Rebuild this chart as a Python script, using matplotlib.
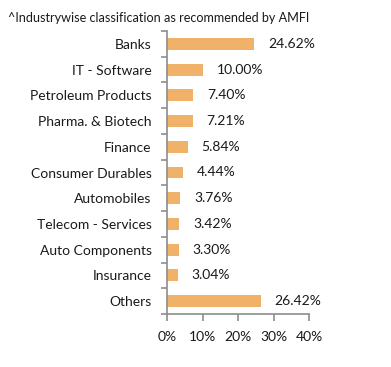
import matplotlib
matplotlib.use("Agg")
import matplotlib.pyplot as plt
from matplotlib.ticker import FixedLocator, FuncFormatter

categories = ["Banks", "IT - Software", "Petroleum Products", "Pharma. & Biotech",
              "Finance", "Consumer Durables", "Automobiles", "Telecom - Services",
              "Auto Components", "Insurance", "Others"]
values = [24.62, 10.00, 7.40, 7.21, 5.84, 4.44, 3.76, 3.42, 3.30, 3.04, 26.42]
xticks = [0, 10, 20, 30, 40]
title = "^Industrywise classification as recommended by AMFI"

plt.rcParams['font.family'] = ['Lato', 'DejaVu Sans']
fig = plt.figure(figsize=(3.91, 3.67), dpi=100)
ax = fig.add_axes([167/391, 1-314/367, (309-167)/391, (314-31)/367])

n = len(categories)
ypos = list(range(n))
ax.barh(ypos, values, height=0.46, color="#F0B169")
ax.set_ylim(n-0.5, -0.5)
ax.set_xlim(0, 40)
grey = "#8c8c8c"
txt = "#1a1a1a"
for s in ["top", "right"]:
    ax.spines[s].set_visible(False)
for s in ["left", "bottom"]:
    ax.spines[s].set_color(grey)
    ax.spines[s].set_linewidth(1.2)

ax.xaxis.set_major_locator(FixedLocator(xticks))
ax.xaxis.set_major_formatter(FuncFormatter(lambda v, p: f"{v:.0f}%"))
ax.tick_params(axis='x', length=5, width=1.2, color=grey, labelsize=10, pad=7, labelcolor=txt)

ax.set_yticks(ypos)
ax.set_yticklabels(categories, fontsize=10, color=txt)
ax.tick_params(axis='y', which='major', length=0, pad=11)
ax.set_yticks([i - 0.5 for i in range(n + 1)], minor=True)
ax.tick_params(axis='y', which='minor', length=4, width=1.2, color=grey)

for y, v in zip(ypos, values):
    ax.annotate(f"{v:.2f}%", (v, y), xytext=(10, 0), textcoords="offset points",
                va="center", ha="left", fontsize=10, color=txt)

fig.text(8/391, 1-18/367, title, fontsize=9.1, color=txt, va="center", ha="left")

fig.savefig("out.png", dpi=100)
